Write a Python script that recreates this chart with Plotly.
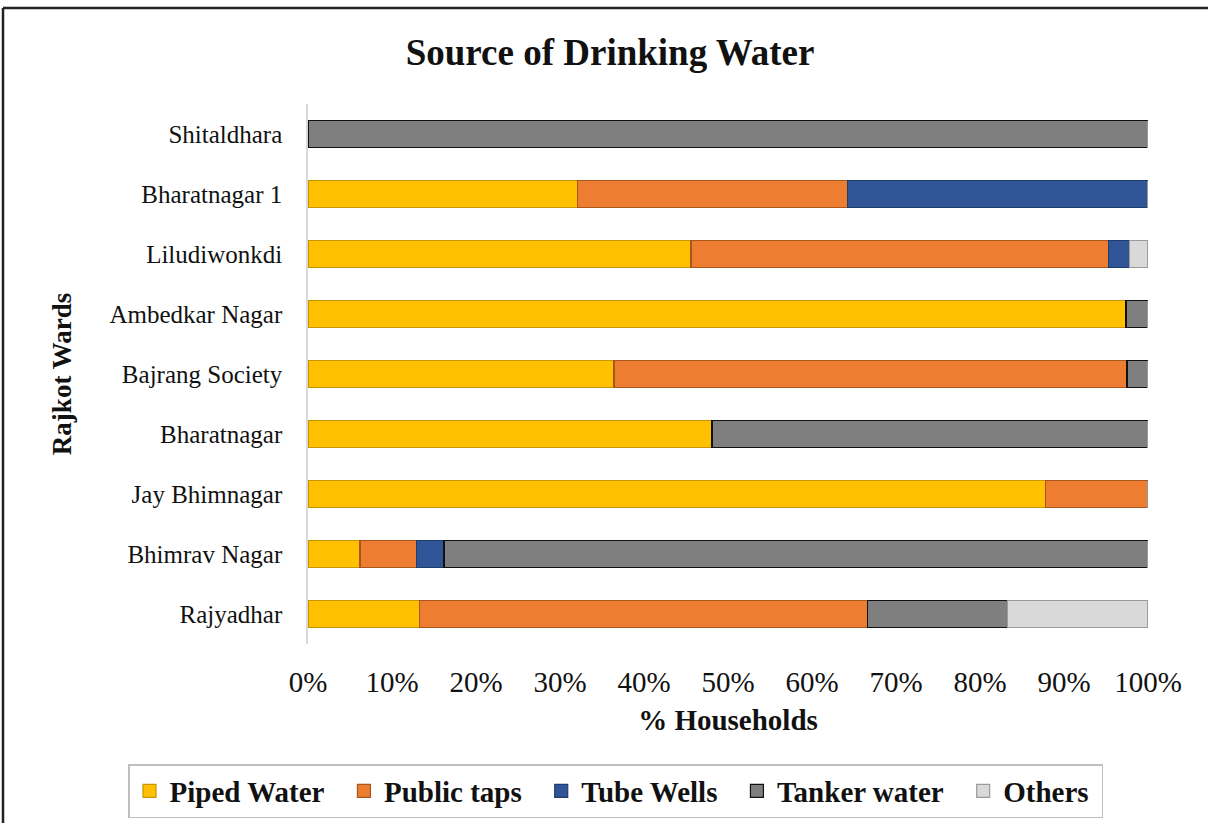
import plotly.graph_objects as go

# Wards listed bottom to top as drawn on the category axis
wards = ["Rajyadhar", "Bhimrav Nagar", "Jay Bhimnagar", "Bharatnagar",
         "Bajrang Society", "Ambedkar Nagar", "Liludiwonkdi",
         "Bharatnagar 1", "Shitaldhara"]

# Share of households (%) by source of drinking water
piped_water = [13.3, 6.2, 87.8, 48.1, 36.4, 97.4, 45.6, 32.1, 0]
public_taps = [53.3, 6.7, 12.2, 0, 61.1, 0, 49.7, 32.1, 0]
tube_wells = [0, 3.3, 0, 0, 0, 0, 2.5, 35.8, 0]
tanker_water = [16.7, 83.8, 0, 51.9, 2.5, 2.6, 0, 0, 100]
others = [16.7, 0, 0, 0, 0, 0, 2.2, 0, 0]

x_ticks = [0, 10, 20, 30, 40, 50, 60, 70, 80, 90, 100]
x_tick_labels = [f"{t}%" for t in x_ticks]

series = [
    ("Piped Water", piped_water, "#FFC000", "#C89600"),
    ("Public taps", public_taps, "#ED7D31", "#A9561E"),
    ("Tube Wells", tube_wells, "#2F5597", "#1F3C6E"),
    ("Tanker water", tanker_water, "#7F7F7F", "#111111"),
    ("Others", others, "#D9D9D9", "#9A9A9A"),
]

FONT = "Liberation Serif"

fig = go.Figure()
for name, vals, fill, edge in series:
    fig.add_trace(go.Bar(
        y=wards, x=vals, name=name, orientation="h", showlegend=False,
        marker=dict(color=fill, line=dict(color=edge, width=1.5)),
    ))

# Small square legend keys, padded so the entries spread across the box
for i, (name, vals, fill, edge) in enumerate(series):
    pad = "\u00a0\u00a0" if i < len(series) - 1 else "\u00a0"
    fig.add_trace(go.Scatter(
        x=[None], y=[None], mode="markers", name=f"<b>{name}</b>{pad}",
        marker=dict(symbol="square", size=13, color=fill,
                    line=dict(color=edge, width=1.2)),
    ))

fig.update_layout(
    width=1208, height=823,
    barmode="stack", bargap=0.55,
    plot_bgcolor="white", paper_bgcolor="white",
    margin=dict(l=308, r=60, t=104, b=179, autoexpand=False),
    font=dict(family=FONT, color="#111111"),
    title=dict(text="<b>Source of Drinking Water</b>", x=0.505, xanchor="center",
               y=0.937, yanchor="middle", font=dict(size=37, family=FONT)),
    xaxis=dict(range=[0, 100], tickvals=x_ticks, ticktext=x_tick_labels,
               showgrid=False, zeroline=False, showline=False,
               tickfont=dict(size=29, family=FONT),
               title=dict(text="<b>% Households</b>", font=dict(size=29, family=FONT),
                          standoff=12),
               ticklabelstandoff=18),
    yaxis=dict(categoryorder="array", categoryarray=wards,
               showgrid=False, zeroline=False, showline=True, linecolor="#D9D9D9",
               linewidth=1.5, tickfont=dict(size=25, family=FONT),
               ticklabelstandoff=19,
               title=dict(text="<b>Rajkot Wards</b>", font=dict(size=27, family=FONT),
                          standoff=30)),
    legend=dict(orientation="h", x=(128 - 308) / 840, xanchor="left",
                y=(644 - 791) / 540, yanchor="middle",
                bordercolor="#BFBFBF", borderwidth=1.5,
                font=dict(size=29, family=FONT), itemwidth=30,
                traceorder="normal"),
)

# Outer frame along the left and top edges of the figure
fig.add_shape(type="line", xref="paper", yref="paper",
              x0=(3 - 308) / 840, x1=(3 - 308) / 840, y0=-0.4, y1=(644 - 8) / 540,
              line=dict(color="#222222", width=2.5))
fig.add_shape(type="line", xref="paper", yref="paper",
              x0=(3 - 308) / 840, x1=1.2, y0=(644 - 8) / 540, y1=(644 - 8) / 540,
              line=dict(color="#222222", width=2.5))

fig.write_html("out.html")
